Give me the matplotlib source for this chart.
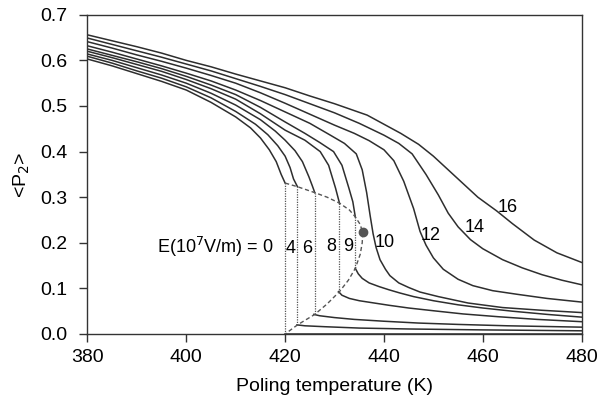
import matplotlib
matplotlib.use("Agg")
import matplotlib.pyplot as plt

plt.rcParams['font.family'] = ['Liberation Sans', 'DejaVu Sans']

# field values (10^7 V/m)
fields = [0, 4, 6, 8, 9, 10, 12, 14, 16]

# upper (nematic) branches for fields below the critical one
t_up_0 = [380, 385, 390, 395, 400, 405, 410, 413, 415, 416.8, 418.2, 419.2, 420]
p_up_0 = [0.603, 0.588, 0.571, 0.554, 0.535, 0.508, 0.476, 0.452, 0.43, 0.404, 0.378, 0.35, 0.331]
t_up_4 = [380, 385, 390, 395, 400, 405, 410, 414, 416.5, 418.5, 420, 421, 421.7, 422.5]
p_up_4 = [0.609, 0.594, 0.577, 0.561, 0.542, 0.518, 0.488, 0.46, 0.437, 0.413, 0.39, 0.365, 0.34, 0.323]
t_up_6 = [380, 385, 390, 395, 400, 405, 410, 415, 418, 420, 422, 423.5, 424.8, 425.5, 426]
p_up_6 = [0.614, 0.6, 0.584, 0.568, 0.55, 0.528, 0.502, 0.47, 0.445, 0.425, 0.402, 0.378, 0.345, 0.325, 0.31]
t_up_8 = [380, 385, 390, 395, 400, 405, 410, 415, 420, 424, 427.1, 428.8, 430.2, 431]
p_up_8 = [0.62, 0.606, 0.591, 0.576, 0.558, 0.538, 0.515, 0.483, 0.447, 0.425, 0.40, 0.37, 0.32, 0.287]
t_up_9 = [380, 385, 390, 395, 400, 405, 410, 415, 420, 424, 427, 429.8, 431.5, 432.9, 433.7, 434.2]
p_up_9 = [0.625, 0.611, 0.597, 0.582, 0.565, 0.546, 0.525, 0.497, 0.465, 0.44, 0.42, 0.40, 0.37, 0.32, 0.29, 0.257]

# lower (paranematic) branches
t_lo_0 = [420, 480]
p_lo_0 = [0.0, 0.0]
t_lo_4 = [422.4, 424, 428, 435, 445, 460, 480]
p_lo_4 = [0.02, 0.018, 0.016, 0.013, 0.011, 0.009, 0.007]
t_lo_6 = [425.8, 427, 430, 434, 440, 447, 455, 465, 480]
p_lo_6 = [0.043, 0.04, 0.036, 0.032, 0.028, 0.024, 0.021, 0.018, 0.015]
t_lo_8 = [430.8, 431.5, 433, 435, 438, 441, 445, 450, 456, 463, 471, 480]
p_lo_8 = [0.093, 0.085, 0.078, 0.073, 0.068, 0.063, 0.057, 0.051, 0.044, 0.038, 0.032, 0.027]
t_lo_9 = [434.2, 434.8, 435.6, 437, 439, 441, 443.2, 446, 450, 455, 460, 466, 473, 480]
p_lo_9 = [0.144, 0.132, 0.122, 0.112, 0.104, 0.097, 0.09, 0.082, 0.073, 0.064, 0.057, 0.05, 0.043, 0.037]

# continuous curves above the critical field
t_10 = [380, 385, 390, 395, 400, 405, 410, 415, 420, 425, 429, 432, 434.4, 435.6, 436.5, 437.2, 437.8,
        438.4, 439.2, 440.3, 441.2, 443, 445, 447.3, 451, 457, 464, 472, 480]
p_10 = [0.632, 0.618, 0.603, 0.588, 0.572, 0.555, 0.535, 0.512, 0.487, 0.462, 0.437, 0.418, 0.395, 0.36, 0.31,
        0.26, 0.22, 0.19, 0.163, 0.142, 0.128, 0.112, 0.102, 0.092, 0.082, 0.068, 0.058, 0.052, 0.047]
t_12 = [380, 385, 390, 395, 400, 405, 410, 415, 420, 425, 430, 434, 437, 440, 442, 444, 446, 447.3,
        448.5, 450, 452, 455, 458, 462, 467, 473, 480]
p_12 = [0.641, 0.627, 0.612, 0.598, 0.583, 0.567, 0.55, 0.529, 0.506, 0.482, 0.458, 0.44, 0.424, 0.404, 0.38,
        0.335, 0.275, 0.225, 0.195, 0.167, 0.142, 0.12, 0.106, 0.095, 0.087, 0.078, 0.07]
t_14 = [380, 385, 390, 395, 400, 405, 410, 415, 420, 425, 430, 435, 440, 443, 445.7, 448.5, 451, 453,
        455, 457.5, 460, 464, 468, 472, 476, 480]
p_14 = [0.649, 0.635, 0.621, 0.607, 0.592, 0.577, 0.56, 0.543, 0.525, 0.505, 0.485, 0.462, 0.436, 0.418, 0.395,
        0.35, 0.305, 0.265, 0.235, 0.207, 0.187, 0.163, 0.145, 0.13, 0.118, 0.108]
t_16 = [380, 385, 390, 395, 400, 405, 410, 415, 420, 425, 430, 436.6, 443.4, 447, 450, 453, 456, 459,
        462.8, 466, 470.4, 475, 480]
p_16 = [0.656, 0.643, 0.63, 0.616, 0.60, 0.586, 0.57, 0.555, 0.54, 0.522, 0.505, 0.48, 0.44, 0.416, 0.39,
        0.36, 0.33, 0.30, 0.27, 0.242, 0.206, 0.178, 0.157]

# coexistence boundary (dashed) and critical point
t_coex = [420, 422.5, 426, 428.5, 431, 433, 434.2, 435.2, 435.7, 435.6, 435.2, 434.2, 432.8, 431, 428.5,
          426, 422.5, 420]
p_coex = [0.331, 0.323, 0.31, 0.30, 0.287, 0.272, 0.257, 0.24, 0.222, 0.2, 0.175, 0.144, 0.118, 0.093, 0.066,
          0.043, 0.02, 0.0]
t_crit = 435.7
p_crit = 0.224

# jump temperatures (dotted verticals)
t_jump = [420, 422.5, 426, 431, 434.2]
p_jump_lo = [0.0, 0.02, 0.043, 0.093, 0.144]
p_jump_hi = [0.331, 0.323, 0.31, 0.287, 0.257]

# curve labels
lab_text = ['4', '6', '8', '9', '10', '12', '14', '16']
lab_t = [421.1, 424.4, 429.4, 432.7, 440.1, 449.5, 458.3, 465.0]
lab_p = [0.188, 0.188, 0.192, 0.192, 0.200, 0.215, 0.234, 0.278]

fig = plt.figure(figsize=(5.99, 4.0), dpi=100)
ax = fig.add_axes([0.146, 0.165, 0.825, 0.798])

lc = '#2e2e2e'
lw = 1.1
for t, p in [(t_up_0, p_up_0), (t_up_4, p_up_4), (t_up_6, p_up_6), (t_up_8, p_up_8), (t_up_9, p_up_9),
             (t_lo_0, p_lo_0), (t_lo_4, p_lo_4), (t_lo_6, p_lo_6), (t_lo_8, p_lo_8), (t_lo_9, p_lo_9),
             (t_10, p_10), (t_12, p_12), (t_14, p_14), (t_16, p_16)]:
    ax.plot(t, p, color=lc, lw=lw)

ax.plot(t_coex, p_coex, color='#555555', lw=1.0, ls=(0, (3, 2)))
for t, lo, hi in zip(t_jump, p_jump_lo, p_jump_hi):
    ax.plot([t, t], [lo, hi], color='#555555', lw=0.9, ls=(0, (1, 1)))
ax.plot(t_crit, p_crit, 'o', color='#555555', ms=6)

ax.text(417.7, 0.19, r'E(10$^7$V/m) = 0', ha='right', va='center', fontsize=13)
for s, t, p in zip(lab_text, lab_t, lab_p):
    ax.text(t, p, s, ha='center', va='center', fontsize=13)

ax.set_xlim(380, 480)
ax.set_ylim(0.0, 0.7)
ax.set_xticks([380, 400, 420, 440, 460, 480])
ax.set_yticks([0.0, 0.1, 0.2, 0.3, 0.4, 0.5, 0.6, 0.7])
ax.set_yticklabels(['0.0', '0.1', '0.2', '0.3', '0.4', '0.5', '0.6', '0.7'])
ax.tick_params(labelsize=14, direction='out', length=5.5, width=1.0, color='#333333')
ax.tick_params(axis='y', pad=9)
ax.tick_params(axis='x', pad=5)
for sp in ax.spines.values():
    sp.set_color('#333333')
    sp.set_linewidth(1.0)
ax.set_xlabel('Poling temperature (K)', fontsize=14, labelpad=9)
ax.set_ylabel(r'<P$_2$>', fontsize=14, labelpad=6)

fig.savefig('out.png', dpi=100)
